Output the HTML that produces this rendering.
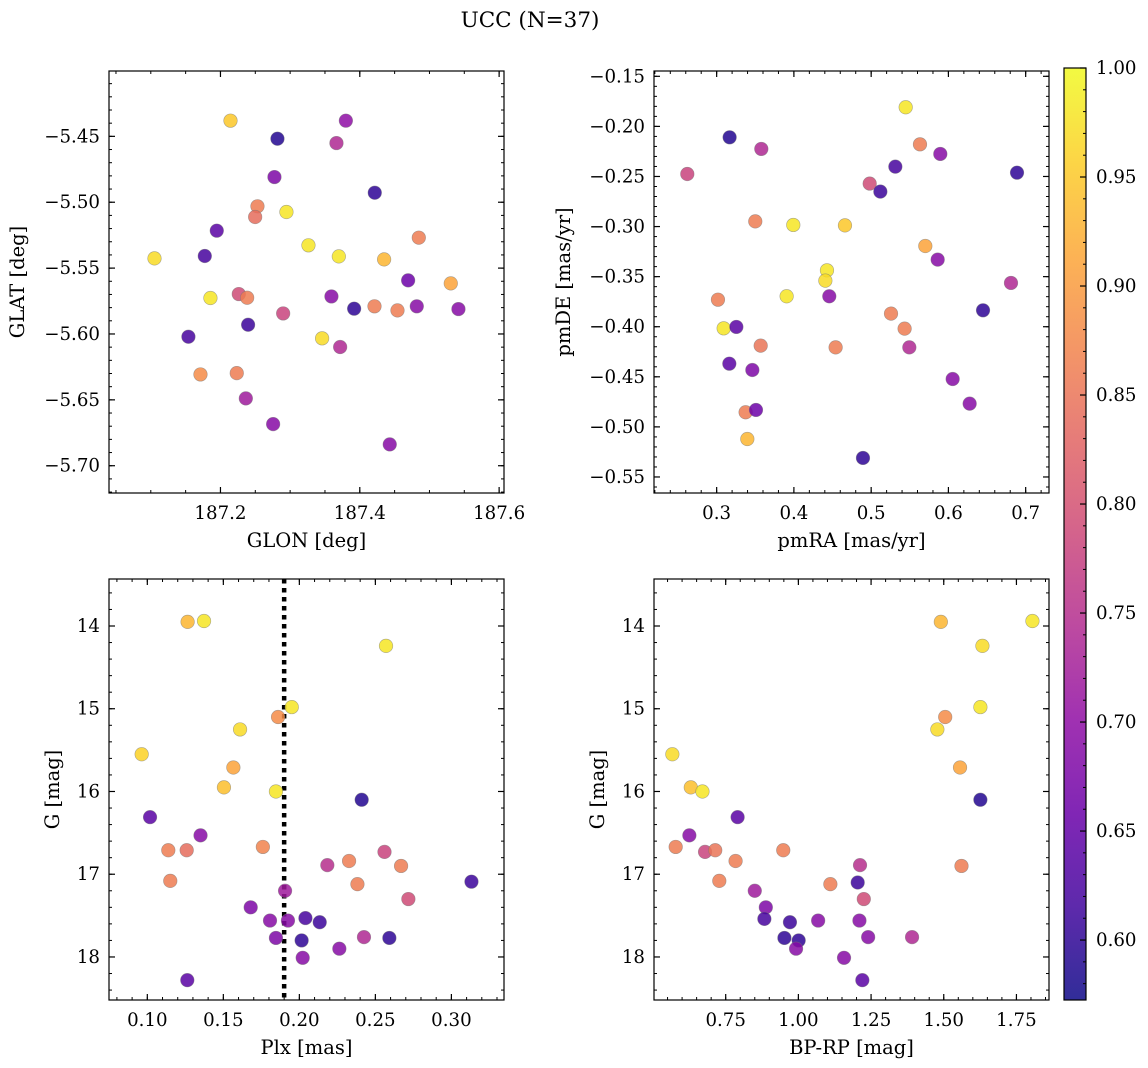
<!DOCTYPE html>
<html><head><meta charset="utf-8"><style>
html,body{margin:0;padding:0;background:#fff;}
svg{display:block;font-family:"DejaVu Serif","Liberation Serif",serif;}
</style></head><body>
<svg id="fig" width="1148" height="1068" viewBox="0 0 1148 1068" xmlns="http://www.w3.org/2000/svg">
<text x="530" y="27" font-size="21.5" text-anchor="middle">UCC (N=37)</text>
</svg>
<script>
// ---- data ----
const glon=[187.2144,187.2818,187.380,187.3665,187.2775,187.4215,187.2531,187.2498,187.2947,187.1947,187.3263,187.4847,187.1053,187.1775,187.3699,187.4349,187.5306,187.4694,187.1856,187.2263,187.2383,187.3593,187.3919,187.4211,187.4541,187.4818,187.5416,187.290,187.2397,187.154,187.3459,187.3718,187.1713,187.2234,187.2364,187.2756,187.443];
const glat=[-5.4381,-5.4518,-5.4381,-5.4551,-5.4809,-5.4928,-5.5031,-5.5112,-5.5074,-5.5216,-5.5327,-5.5269,-5.5426,-5.5408,-5.5411,-5.5434,-5.5616,-5.5593,-5.5727,-5.5697,-5.5725,-5.5715,-5.5808,-5.5790,-5.5821,-5.5790,-5.5811,-5.5844,-5.5930,-5.6021,-5.6033,-5.6099,-5.6307,-5.6297,-5.6489,-5.6684,-5.6838];
const prob1=[0.95,0.59,0.70,0.74,0.68,0.60,0.86,0.84,0.98,0.64,0.98,0.86,0.97,0.62,0.98,0.93,0.91,0.66,0.98,0.79,0.86,0.69,0.60,0.86,0.86,0.69,0.69,0.78,0.61,0.62,0.97,0.74,0.88,0.86,0.72,0.69,0.69];

const pmra=[0.5447,0.3168,0.5632,0.3578,0.5895,0.262,0.6888,0.5313,0.4981,0.5119,0.350,0.3992,0.4661,0.5701,0.5861,0.4428,0.4407,0.681,0.3906,0.4458,0.3017,0.6448,0.5257,0.3091,0.3255,0.5433,0.357,0.454,0.5494,0.3164,0.3462,0.6055,0.6275,0.3375,0.3509,0.3397,0.4894];
const pmde=[-0.1809,-0.2109,-0.2179,-0.2225,-0.2275,-0.2475,-0.2462,-0.2402,-0.2571,-0.2651,-0.2948,-0.2984,-0.2988,-0.3194,-0.3330,-0.3437,-0.3540,-0.3563,-0.3696,-0.3696,-0.3730,-0.3836,-0.3869,-0.4016,-0.4002,-0.4019,-0.4189,-0.4206,-0.4206,-0.4369,-0.4432,-0.4522,-0.4768,-0.4854,-0.4831,-0.5121,-0.5310];
const prob2=[0.98,0.59,0.86,0.74,0.69,0.78,0.60,0.62,0.79,0.61,0.86,0.98,0.95,0.91,0.69,0.98,0.97,0.74,0.98,0.69,0.86,0.60,0.86,0.98,0.64,0.86,0.85,0.86,0.74,0.64,0.68,0.69,0.69,0.86,0.66,0.93,0.60];

const plx=[0.1265,0.1373,0.257,0.195,0.186,0.161,0.0963,0.1566,0.1504,0.1846,0.241,0.1018,0.135,0.1138,0.1259,0.176,0.256,0.2184,0.2327,0.2669,0.1151,0.3132,0.2382,0.1906,0.2717,0.168,0.1807,0.1925,0.204,0.2134,0.1846,0.2015,0.2425,0.2592,0.2263,0.2022,0.1263];
const gmag3=[13.95,13.94,14.24,14.98,15.10,15.25,15.55,15.71,15.95,16.00,16.10,16.31,16.53,16.71,16.71,16.67,16.73,16.89,16.84,16.90,17.08,17.09,17.12,17.20,17.30,17.40,17.56,17.56,17.53,17.58,17.77,17.80,17.76,17.77,17.90,18.01,18.28];
const prob3=[0.93,0.98,0.98,0.98,0.88,0.97,0.96,0.91,0.94,0.98,0.59,0.64,0.69,0.86,0.84,0.87,0.78,0.75,0.86,0.86,0.86,0.61,0.86,0.72,0.79,0.68,0.69,0.69,0.62,0.61,0.68,0.60,0.74,0.60,0.69,0.69,0.64];
const plxLine=[0.19];

const bprp=[1.490,1.805,1.633,1.626,1.505,1.478,0.5665,1.556,0.630,0.670,1.626,0.791,0.625,0.578,0.679,0.714,0.948,0.784,1.212,1.561,0.728,1.204,1.110,0.850,1.225,0.888,0.883,0.971,1.068,1.210,0.952,1.001,1.240,1.391,0.992,1.157,1.220];
const gmag4=[13.95,13.94,14.24,14.98,15.10,15.25,15.55,15.71,15.95,16.00,16.10,16.31,16.53,16.67,16.73,16.71,16.71,16.84,16.89,16.90,17.08,17.10,17.12,17.20,17.30,17.40,17.54,17.58,17.56,17.56,17.77,17.80,17.76,17.76,17.90,18.01,18.28];
const prob4=[0.93,0.98,0.97,0.98,0.88,0.97,0.97,0.91,0.94,0.98,0.59,0.64,0.69,0.86,0.78,0.85,0.86,0.86,0.75,0.86,0.86,0.61,0.86,0.72,0.79,0.68,0.62,0.61,0.69,0.69,0.60,0.60,0.69,0.74,0.69,0.69,0.64];

const p1xTicks=[187.2,187.4,187.6], p1yTicks=[-5.45,-5.50,-5.55,-5.60,-5.65,-5.70];
const p2xTicks=[0.3,0.4,0.5,0.6,0.7], p2yTicks=[-0.15,-0.20,-0.25,-0.30,-0.35,-0.40,-0.45,-0.50,-0.55];
const p3xTicks=[0.10,0.15,0.20,0.25,0.30], gTicks=[14,15,16,17,18];
const p4xTicks=[0.75,1.00,1.25,1.50,1.75];
const cbTicks=[0.60,0.65,0.70,0.75,0.80,0.85,0.90,0.95,1.00];

// ---- helpers ----
const NS="http://www.w3.org/2000/svg";
const svg=document.getElementById('fig');
const TFS=18.2, LFS=19.5;
function mk(tag,attrs,parent){const e=document.createElementNS(NS,tag);for(const k in attrs)e.setAttribute(k,attrs[k]);(parent||svg).appendChild(e);return e;}
const VMIN=0.5725,VMAX=1.0;
const stops=[[13,8,135],[65,4,157],[106,0,168],[143,13,164],[177,42,144],[204,71,120],[225,100,98],[242,132,75],[252,166,54],[252,206,37],[240,249,33]];
function plasma(v){let t=(v-VMIN)/(VMAX-VMIN);t=Math.max(0,Math.min(1,t));const f=t*10,i=Math.min(9,Math.floor(f)),r=f-i;const a=stops[i],b=stops[i+1];return `rgb(${Math.round(a[0]+(b[0]-a[0])*r)},${Math.round(a[1]+(b[1]-a[1])*r)},${Math.round(a[2]+(b[2]-a[2])*r)})`;}
function fmt(v,d){return (v<0?'\u2212':'')+Math.abs(v).toFixed(d);}

function panel(cfg){
  const {L,T,R,B,xmin,xmax,ymin,ymax,inv,name}=cfg;
  const sx=v=>L+(v-xmin)/(xmax-xmin)*(R-L);
  const sy=inv? v=>T+(v-ymin)/(ymax-ymin)*(B-T) : v=>B-(v-ymin)/(ymax-ymin)*(B-T);
  const g=mk('g',{});
  
  
  const eps=1e-9;
  for(let v=Math.ceil(xmin/cfg.xmin_step-eps)*cfg.xmin_step;v<=xmax+eps;v+=cfg.xmin_step){const x=sx(v);
    mk('line',{x1:x,x2:x,y1:B,y2:B-3,stroke:'#000','stroke-width':1},g);mk('line',{x1:x,x2:x,y1:T,y2:T+3,stroke:'#000','stroke-width':1},g);}
  for(let v=Math.ceil(Math.min(ymin,ymax)/cfg.ymin_step-eps)*cfg.ymin_step;v<=Math.max(ymin,ymax)+eps;v+=cfg.ymin_step){const y=sy(v);
    mk('line',{x1:L,x2:L+3,y1:y,y2:y,stroke:'#000','stroke-width':1},g);mk('line',{x1:R,x2:R-3,y1:y,y2:y,stroke:'#000','stroke-width':1},g);}
  cfg.xt.forEach(v=>{const x=sx(v);
    mk('line',{x1:x,x2:x,y1:B,y2:B-6,stroke:'#000','stroke-width':1.2},g);mk('line',{x1:x,x2:x,y1:T,y2:T+6,stroke:'#000','stroke-width':1.2},g);
    const t=mk('text',{x:x,y:B+26,'font-size':TFS,'text-anchor':'middle'},g);t.textContent=fmt(v,cfg.xd);
    
    });
  cfg.yt.forEach(v=>{const y=sy(v);
    mk('line',{x1:L,x2:L+6,y1:y,y2:y,stroke:'#000','stroke-width':1.2},g);mk('line',{x1:R,x2:R-6,y1:y,y2:y,stroke:'#000','stroke-width':1.2},g);
    const t=mk('text',{x:L-9,y:y+6,'font-size':TFS,'text-anchor':'end'},g);t.textContent=fmt(v,cfg.yd);
    
    });
  if(cfg.vline!==undefined){const x=sx(cfg.vline);
    const l=mk('line',{x1:x,x2:x,y1:T,y2:B,stroke:'#000','stroke-width':4.5,'stroke-dasharray':'4.5,4.5'},g);
    
    }
  cfg.xs.forEach((xv,i)=>{
    const c=mk('circle',{cx:sx(xv),cy:sy(cfg.ys[i]),r:6.8,fill:plasma(cfg.cs[i]),'fill-opacity':0.85,stroke:'#777','stroke-opacity':0.6,'stroke-width':0.6},g);
    
    });
  mk('rect',{x:L,y:T,width:R-L,height:B-T,fill:'none',stroke:'#000','stroke-width':1.2},g);
  const xl=mk('text',{x:(L+R)/2,y:B+54,'font-size':LFS,'text-anchor':'middle'},g);xl.textContent=cfg.xlabel;
  
  
  const yx=cfg.ylx,yy=(T+B)/2;
  const yl=mk('text',{x:yx,y:yy,'font-size':LFS,'text-anchor':'middle',transform:`rotate(-90 ${yx} ${yy})`},g);yl.textContent=cfg.ylabel;
  
  
}

panel({name:'glon-glat-panel',L:109,T:71,R:504,B:493,xmin:187.040,xmax:187.607,ymin:-5.7207,ymax:-5.4004,xt:p1xTicks,yt:p1yTicks,xd:1,yd:2,xmin_step:0.05,ymin_step:0.01,xs:glon,ys:glat,cs:prob1,xlabel:'GLON [deg]',ylabel:'GLAT [deg]',ylx:24});
panel({name:'pm-panel',L:654,T:71,R:1049,B:493,xmin:0.2189,xmax:0.7302,ymin:-0.566,ymax:-0.1447,xt:p2xTicks,yt:p2yTicks,xd:1,yd:2,xmin_step:0.02,ymin_step:0.01,xs:pmra,ys:pmde,cs:prob2,xlabel:'pmRA [mas/yr]',ylabel:'pmDE [mas/yr]',ylx:570});
panel({name:'plx-g-panel',L:109,T:579,R:504,B:1000,xmin:0.0748,xmax:0.3346,ymin:13.432,ymax:18.52,inv:true,xt:p3xTicks,yt:gTicks,xd:2,yd:0,xmin_step:0.01,ymin_step:0.2,xs:plx,ys:gmag3,cs:prob3,vline:plxLine[0],xlabel:'Plx [mas]',ylabel:'G [mag]',ylx:59});
panel({name:'cmd-panel',L:654,T:579,R:1049,B:1000,xmin:0.5034,xmax:1.862,ymin:13.432,ymax:18.52,inv:true,xt:p4xTicks,yt:gTicks,xd:2,yd:0,xmin_step:0.05,ymin_step:0.2,xs:bprp,ys:gmag4,cs:prob4,xlabel:'BP-RP [mag]',ylabel:'G [mag]',ylx:604});

// colorbar
const CL=1064,CR=1086,CT=68,CB=1000;
const defs=mk('defs',{});
const grad=mk('linearGradient',{id:'cbg',x1:0,y1:1,x2:0,y2:0},defs);
for(let i=0;i<=20;i++){const v=VMIN+(VMAX-VMIN)*i/20;mk('stop',{offset:(i/20),'stop-color':plasma(v),'stop-opacity':0.85},grad);}
const cb=mk('g',{});


mk('rect',{x:CL,y:CT,width:CR-CL,height:CB-CT,fill:'url(#cbg)'},cb);
const cy=v=>CB-(v-VMIN)/(VMAX-VMIN)*(CB-CT);
for(let v=0.58;v<=1.0001;v+=0.01){const y=cy(v);mk('line',{x1:CR,x2:CR-3,y1:y,y2:y,stroke:'#000','stroke-width':1},cb);}
cbTicks.forEach(v=>{const y=cy(v);mk('line',{x1:CR,x2:CR-6,y1:y,y2:y,stroke:'#000','stroke-width':1.2},cb);
  const t=mk('text',{x:CR+10,y:y+6,'font-size':TFS},cb);t.textContent=v.toFixed(2);
  
  });
mk('rect',{x:CL,y:CT,width:CR-CL,height:CB-CT,fill:'none',stroke:'#000','stroke-width':1.2},cb);
</script>
</body></html>
